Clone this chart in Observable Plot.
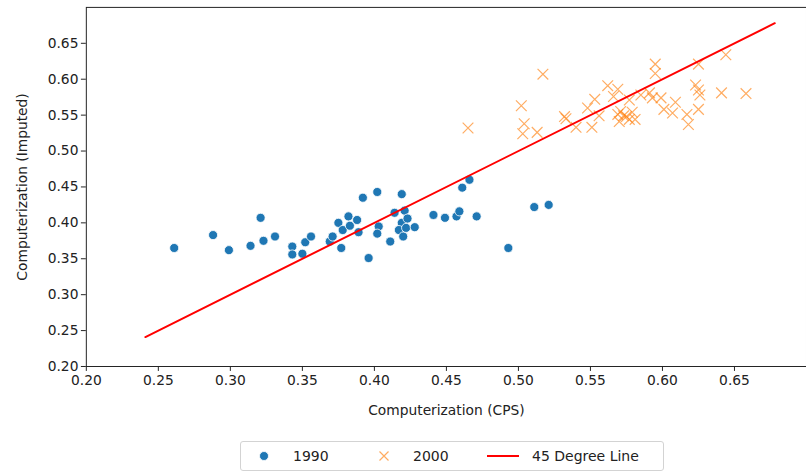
<!DOCTYPE html>
<html>
<head>
<meta charset="utf-8">
<script src="https://cdn.jsdelivr.net/npm/d3@7"></script>
<script src="https://cdn.jsdelivr.net/npm/@observablehq/plot@0.6"></script>
<style>
  html, body { margin: 0; padding: 0; background: #fff; overflow: hidden; width: 806px; height: 471px; }
  #wrap { position: relative; width: 806px; height: 471px; font-family: "DejaVu Sans", sans-serif; }
  #chart { position: absolute; left: 0; top: 0; }
  #legend { position: absolute; left: 240px; top: 441px; width: 422px; height: 28px; border: 1px solid #d3d3d3; border-radius: 3px; background: #fff; font-size: 14px; color: #222; }
  #legend .item { position: absolute; top: 0; height: 28px; line-height: 28px; }
  #legend svg { position: absolute; }
</style>
</head>
<body>
<div id="wrap">
  <div id="chart"></div>
  <div id="legend"></div>
</div>
<script>
// ---- data ----
const x1990 = [0.261,0.288,0.299,0.314,0.321,0.323,0.331,0.343,0.343,0.350,0.352,0.356,0.369,0.371,0.375,0.377,0.378,0.382,0.383,0.388,0.389,0.392,0.396,0.402,0.403,0.402,0.411,0.414,0.419,0.421,0.419,0.417,0.423,0.420,0.422,0.428,0.441,0.449,0.457,0.459,0.461,0.466,0.471,0.493,0.511,0.521];
const y1990 = [0.365,0.383,0.362,0.368,0.407,0.375,0.381,0.367,0.356,0.357,0.373,0.381,0.374,0.381,0.400,0.365,0.390,0.409,0.396,0.404,0.387,0.435,0.351,0.443,0.395,0.385,0.374,0.414,0.440,0.417,0.400,0.390,0.406,0.381,0.393,0.394,0.411,0.407,0.409,0.416,0.449,0.460,0.409,0.365,0.422,0.425];
const x2000 = [0.465,0.517,0.502,0.504,0.503,0.513,0.532,0.533,0.540,0.548,0.553,0.551,0.556,0.562,0.566,0.569,0.569,0.570,0.571,0.573,0.575,0.577,0.579,0.581,0.577,0.585,0.591,0.593,0.595,0.595,0.599,0.601,0.607,0.609,0.617,0.618,0.623,0.625,0.625,0.626,0.625,0.641,0.644,0.658];
const y2000 = [0.532,0.607,0.563,0.538,0.524,0.526,0.548,0.545,0.533,0.560,0.572,0.533,0.549,0.591,0.576,0.586,0.551,0.541,0.555,0.549,0.548,0.571,0.554,0.544,0.544,0.578,0.581,0.574,0.621,0.608,0.574,0.558,0.553,0.568,0.551,0.537,0.592,0.621,0.585,0.578,0.558,0.581,0.634,0.580];
const lineEnds = [0.241, 0.678];
const tickValues = [0.20,0.25,0.30,0.35,0.40,0.45,0.50,0.55,0.60,0.65];
const seriesNames = ["1990", "2000", "45 Degree Line"];

const d1990 = x1990.map((x, i) => ({x, y: y1990[i]}));
const d2000 = x2000.map((x, i) => ({x, y: y2000[i]}));
const dLine = lineEnds.map(v => ({x: v, y: v}));

const BLUE = "#1f77b4", ORANGE = "#ff7f0e";

const chart = Plot.plot({
  width: 817,
  height: 430,
  marginLeft: 87,
  marginRight: 0,
  marginTop: 7,
  marginBottom: 59,
  style: {fontFamily: "DejaVu Sans, sans-serif", fontSize: "14px", color: "#222", background: "transparent"},
  x: {domain: [0.2, 0.7]},
  y: {domain: [0.2, 0.7]},
  marks: [
    Plot.axisX({ticks: tickValues, tickFormat: d3.format(".2f"), tickSize: 5, tickPadding: 4, fontSize: 14,
      label: "Computerization (CPS)", labelAnchor: "center", labelArrow: "none", labelOffset: 49}),
    Plot.axisY({ticks: tickValues, tickFormat: d3.format(".2f"), tickSize: 5, tickPadding: 3, fontSize: 14,
      label: "Computerization (Imputed)", labelAnchor: "center", labelArrow: "none", labelOffset: 70}),
    Plot.dot(d1990, {x: "x", y: "y", r: 4.6, fill: BLUE, stroke: "white", strokeWidth: 0.8}),
    Plot.dot(d2000, {x: "x", y: "y", symbol: "times", r: 5, stroke: ORANGE, strokeOpacity: 0.65, strokeWidth: 1.2}),
    Plot.line(dLine, {x: "x", y: "y", stroke: "red", strokeWidth: 2}),
    Plot.frame({stroke: "#222", strokeWidth: 1})
  ]
});
document.getElementById("chart").appendChild(chart);

// ---- legend ----
const legend = document.getElementById("legend");
legend.innerHTML = `
  <svg style="left:17px;top:8px" width="12" height="12"><circle cx="6" cy="6" r="4.5" fill="${BLUE}" stroke="white" stroke-width="0.8"/></svg>
  <span class="item" style="left:52px">${seriesNames[0]}</span>
  <svg style="left:137px;top:8px" width="12" height="12"><path d="M1.5,1.5L10.5,10.5M10.5,1.5L1.5,10.5" stroke="${ORANGE}" stroke-opacity="0.65" stroke-width="1.2"/></svg>
  <span class="item" style="left:172px">${seriesNames[1]}</span>
  <svg style="left:245px;top:8px" width="34" height="12"><line x1="1" y1="6" x2="33" y2="6" stroke="red" stroke-width="2"/></svg>
  <span class="item" style="left:291px">${seriesNames[2]}</span>
`;
</script>
</body>
</html>
